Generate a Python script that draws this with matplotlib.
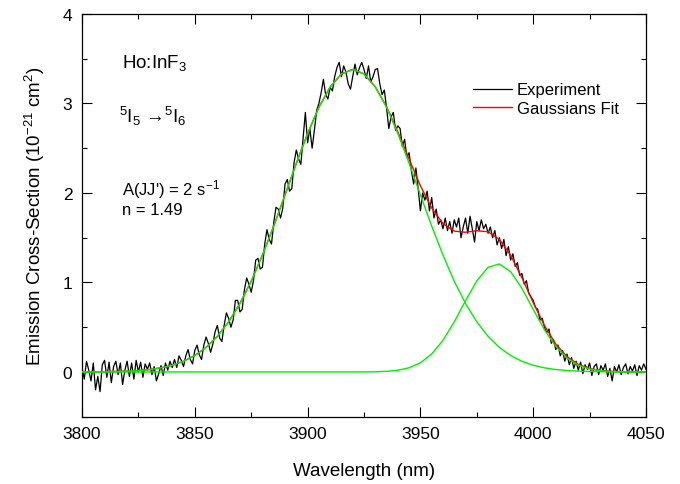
import matplotlib
matplotlib.use("Agg")
import matplotlib.pyplot as plt
from matplotlib.ticker import MultipleLocator
import numpy as np

plt.rcParams['font.family'] = ['Liberation Sans', 'DejaVu Sans']
plt.rcParams['mathtext.fontset'] = 'custom'
plt.rcParams['mathtext.rm'] = 'Liberation Sans'
plt.rcParams['mathtext.it'] = 'Liberation Sans:italic'
plt.rcParams['mathtext.bf'] = 'Liberation Sans:bold'

# ---- data ----
exp_start = 3800  # nm, 1 nm step
experiment = [
    0.05, -0.08, 0.12, 0.02, -0.10, 0.10, -0.20, -0.05, -0.22, 0.08,
    0.13, -0.06, 0.11, -0.12, 0.06, 0.12, -0.03, 0.10, -0.14, 0.02,
    0.12, -0.05, 0.10, -0.08, 0.13, 0.00, 0.11, -0.06, 0.09, 0.03,
    0.10, -0.03, 0.06, -0.10, -0.02, 0.07, -0.04, 0.10, 0.02, 0.12,
    0.05, 0.14, 0.05, 0.18, 0.13, 0.06, 0.18, 0.25, 0.14, 0.09,
    0.24, 0.30, 0.19, 0.14, 0.30, 0.39, 0.32, 0.22, 0.31, 0.45,
    0.52, 0.38, 0.34, 0.52, 0.66, 0.60, 0.50, 0.58, 0.80, 0.80,
    0.67, 0.70, 0.92, 1.05, 0.98, 0.89, 1.02, 1.25, 1.27, 1.15,
    1.17, 1.43, 1.59, 1.48, 1.43, 1.67, 1.84, 1.82, 1.72, 1.83,
    2.10, 2.15, 2.02, 2.05, 2.34, 2.48, 2.38, 2.32, 2.61, 2.90,
    2.56, 2.72, 2.50, 2.70, 2.92, 3.00, 3.12, 3.27, 3.10, 3.05,
    3.18, 3.14, 3.30, 3.40, 3.46, 3.30, 3.42, 3.35, 3.22, 3.16,
    3.30, 3.44, 3.32, 3.40, 3.46, 3.38, 3.28, 3.42, 3.24, 3.30,
    3.38, 3.39, 3.22, 3.10, 3.15, 2.95, 2.72, 2.85, 2.90, 2.70,
    2.75, 2.72, 2.52, 2.60, 2.40, 2.45, 2.25, 2.10, 2.28, 2.05,
    1.80, 2.00, 1.92, 2.02, 1.80, 1.95, 1.72, 1.82, 1.65, 1.70,
    1.60, 1.72, 1.58, 1.68, 1.55, 1.70, 1.62, 1.72, 1.50, 1.62,
    1.72, 1.55, 1.74, 1.60, 1.45, 1.68, 1.58, 1.70, 1.60, 1.65,
    1.55, 1.62, 1.50, 1.58, 1.42, 1.50, 1.38, 1.48, 1.30, 1.40,
    1.25, 1.32, 1.18, 1.22, 1.08, 1.10, 0.98, 1.02, 0.88, 0.84,
    0.80, 0.72, 0.70, 0.58, 0.60, 0.50, 0.44, 0.48, 0.32, 0.36,
    0.25, 0.30, 0.18, 0.24, 0.12, 0.20, 0.08, 0.16, 0.04, 0.12,
    0.02, 0.11, -0.02, 0.08, 0.03, 0.10, -0.04, 0.06, 0.09, -0.03,
    0.07, 0.02, 0.09, -0.05, 0.04, -0.10, 0.06, 0.00, 0.08, -0.03,
    0.05, 0.09, -0.02, 0.06, 0.01, 0.08, -0.04, 0.07, 0.02, 0.09,
    0.03,
]
wl_exp = exp_start + np.arange(len(experiment))

wl_fit = list(range(3800, 4051, 5))
gauss1 = [
    0.000, 0.001, 0.003, 0.005, 0.009, 0.016, 0.027, 0.046, 0.075, 0.119,
    0.184, 0.274, 0.398, 0.560, 0.765, 1.014, 1.306, 1.631, 1.979, 2.331,
    2.664, 2.957, 3.185, 3.330, 3.380, 3.330, 3.185, 2.957, 2.664, 2.331,
    1.979, 1.631, 1.306, 1.014, 0.765, 0.560, 0.398, 0.274, 0.184, 0.119,
    0.075, 0.046, 0.027, 0.016, 0.009, 0.005, 0.003, 0.001, 0.000, 0.000,
    0.000,
]
gauss2 = [
    0.000, 0.000, 0.000, 0.000, 0.000, 0.000, 0.000, 0.000, 0.000, 0.000,
    0.000, 0.000, 0.000, 0.000, 0.000, 0.000, 0.000, 0.000, 0.000, 0.000,
    0.000, 0.000, 0.000, 0.000, 0.000, 0.000, 0.002, 0.007, 0.019, 0.047,
    0.102, 0.201, 0.353, 0.560, 0.796, 1.018, 1.169, 1.207, 1.121, 0.934,
    0.700, 0.472, 0.285, 0.155, 0.076, 0.033, 0.013, 0.005, 0.002, 0.000,
    0.000,
]
fit_total = np.array(gauss1) + np.array(gauss2)

xticks = [3800, 3850, 3900, 3950, 4000, 4050]
yticks = [0, 1, 2, 3, 4]

# ---- figure ----
fig = plt.figure(figsize=(6.8, 4.85), dpi=100)
ax = fig.add_axes([82/680, 1-417.7/485, (646-82)/680, (417.7-15)/485])

ax.plot(wl_exp, experiment, color='black', lw=0.9, label='Experiment', zorder=2)
ax.plot(wl_fit, fit_total, color='#ff0000', lw=1.0, label='Gaussians Fit', zorder=3)
ax.plot(wl_fit, gauss1, color='#00ee00', lw=1.0, zorder=4)
ax.plot(wl_fit, gauss2, color='#00ee00', lw=1.0, zorder=4)

ax.set_xlim(3800, 4050)
ax.set_ylim(-0.5, 4)
ax.set_xticks(xticks)
ax.set_yticks(yticks)
ax.xaxis.set_minor_locator(MultipleLocator(25))
ax.yaxis.set_minor_locator(MultipleLocator(0.5))
ax.tick_params(which='both', direction='in', top=True, right=True,
               labeltop=False, labelright=False, width=0.8)
ax.tick_params(which='major', length=7, pad=7, labelsize=12.5)
ax.tick_params(which='minor', length=3.5)
for s in ax.spines.values():
    s.set_linewidth(0.9)

ax.set_xlabel('Wavelength (nm)', fontsize=13.5, labelpad=15)
ax.set_ylabel(r'Emission Cross-Section (10$^{-21}$ cm$^{2}$)', fontsize=13.5, labelpad=11)

ax.text(0.0704, 0.8677, r'Ho:InF$_3$', transform=ax.transAxes, fontsize=13.5, va='baseline')
ax.text(0.0656, 0.7318, r'$\mathrm{^{5}I_{5}}$' + ' \u2192' + r'$\mathrm{^{5}I_{6}}$',
        transform=ax.transAxes, fontsize=13.5, va='baseline')
ax.text(0.0704, 0.553, r"A(JJ') = 2 s$^{-1}$", transform=ax.transAxes, fontsize=12, va='baseline')
ax.text(0.0704, 0.5034, 'n = 1.49', transform=ax.transAxes, fontsize=12, va='baseline')

leg = ax.legend(loc='upper left', bbox_to_anchor=(0.693, 0.83), frameon=False,
                fontsize=12, handlelength=2.35, handletextpad=0.28, labelspacing=0.2,
                borderpad=0, borderaxespad=0)

fig.savefig('out.png', dpi=100)
